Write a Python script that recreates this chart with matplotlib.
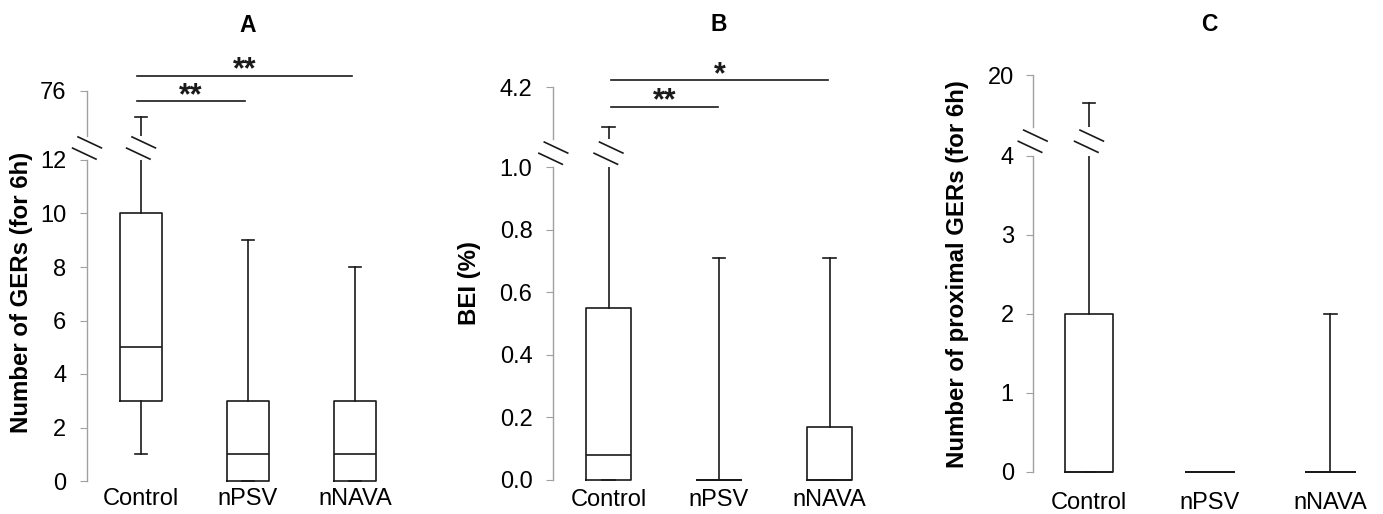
import matplotlib
matplotlib.use("Agg")
import matplotlib.pyplot as plt
from matplotlib.lines import Line2D
from matplotlib.transforms import blended_transform_factory

plt.rcParams['font.family'] = ['Liberation Sans', 'DejaVu Sans']

# ---------------- data ----------------
categories = ['Control', 'nPSV', 'nNAVA']

# Panel A: Number of GERs (for 6h)
gers_min = [1, 0, 0]
gers_q1 = [3, 0, 0]
gers_med = [5, 1, 1]
gers_q3 = [10, 3, 3]
gers_max = [55, 9, 8]
gers_ticks_low = [0, 2, 4, 6, 8, 10, 12]
gers_ticks_high = [76]

# Panel B: BEI (%)
bei_min = [0.0, 0.0, 0.0]
bei_q1 = [0.0, 0.0, 0.0]
bei_med = [0.08, 0.0, 0.0]
bei_q3 = [0.55, 0.0, 0.17]
bei_max = [1.9, 0.71, 0.71]
bei_ticks_low = [0.0, 0.2, 0.4, 0.6, 0.8, 1.0]
bei_ticks_high = [4.2]

# Panel C: Number of proximal GERs (for 6h)
prox_min = [0, 0, 0]
prox_q1 = [0, 0, 0]
prox_med = [0, 0, 0]
prox_q3 = [2, 0, 0]
prox_max = [14.5, 0, 2]
prox_ticks_low = [0, 1, 2, 3, 4]
prox_ticks_high = [20]

# significance comparisons (index pairs, label)
gers_sig = [(0, 1, '**'), (0, 2, '**')]
bei_sig = [(0, 1, '**'), (0, 2, '*')]
prox_sig = []

# ---------------- layout (pixels in the 1383x514 image) ----------------
W, H = 1383, 514
fig = plt.figure(figsize=(W / 100, H / 100), dpi=100)

AXIS_GRAY = '#a0a0a0'
INK = '#1a1a1a'

panels = [
    dict(title='A', ylabel='Number of GERs (for 6h)',
         mins=gers_min, q1=gers_q1, med=gers_med, q3=gers_q3, maxs=gers_max,
         tlow=gers_ticks_low, thigh=gers_ticks_high, fmt='{:g}', sig=gers_sig,
         spine_x=87, y0_px=481, ytop_px=160, up_top_px=91, up_bot_px=136,
         up_lo=40, pos1_px=141, spacing=107, xright=3.5,
         ylabel_xy=(22, 292), title_y=25, xpad=3.2, ypad=10,
         sig_lines_px=[101.3, 75.7], sig_x_off=(-0.04, -0.03)),
    dict(title='B', ylabel='BEI (%)',
         mins=bei_min, q1=bei_q1, med=bei_med, q3=bei_q3, maxs=bei_max,
         tlow=bei_ticks_low, thigh=bei_ticks_high, fmt='{:.1f}', sig=bei_sig,
         spine_x=553.3, y0_px=480, ytop_px=167.3, up_top_px=87.3, up_bot_px=139,
         up_lo=1.2, pos1_px=608.5, spacing=110.5, xright=3.5,
         ylabel_xy=(470, 283), title_y=24, xpad=4.2, ypad=10,
         sig_lines_px=[107, 80.3], sig_x_off=(0.02, -0.01)),
    dict(title='C', ylabel='Number of proximal GERs (for 6h)',
         mins=prox_min, q1=prox_q1, med=prox_med, q3=prox_q3, maxs=prox_max,
         tlow=prox_ticks_low, thigh=prox_ticks_high, fmt='{:g}', sig=prox_sig,
         spine_x=1032.7, y0_px=471.7, ytop_px=155.7, up_top_px=75, up_bot_px=126.7,
         up_lo=10, pos1_px=1089, spacing=120.7, xright=3.44,
         ylabel_xy=(958, 274), title_y=24, xpad=12.5, ypad=8.6,
         sig_lines_px=[], sig_x_off=(0, 0)),
]

TICK_FS = 17
LABEL_FS = 17.3
BOX_LW = 1.2
CAP_PX = 12.5
MARGIN_PX = 3


def style_axis(ax, lo, hi, ticks, fmt, pad):
    for s in ['top', 'right', 'bottom']:
        ax.spines[s].set_visible(False)
    ax.spines['left'].set_color(AXIS_GRAY)
    ax.spines['left'].set_linewidth(1.0)
    ax.spines['left'].set_bounds(lo, hi)
    ax.set_yticks(ticks)
    ax.set_yticklabels([fmt.format(t) for t in ticks])
    ax.tick_params(axis='y', length=5, width=0.8, color=AXIS_GRAY,
                   labelsize=TICK_FS, pad=pad)
    ax.patch.set_alpha(0)


for p in panels:
    n = len(categories)
    positions = list(range(1, n + 1))
    xleft = 1 - (p['pos1_px'] - p['spine_x']) / p['spacing']
    width_px = (p['xright'] - xleft) * p['spacing']
    scale = (p['y0_px'] - p['ytop_px']) / p['tlow'][-1]

    # lower axes
    low_bottom_px = p['y0_px'] + MARGIN_PX
    ax_lo = fig.add_axes([p['spine_x'] / W, 1 - low_bottom_px / H,
                          width_px / W, (low_bottom_px - p['ytop_px']) / H])
    ax_lo.set_xlim(xleft, p['xright'])
    ax_lo.set_ylim(-MARGIN_PX / scale, p['tlow'][-1])

    # upper axes
    ax_hi = fig.add_axes([p['spine_x'] / W, 1 - p['up_bot_px'] / H,
                          width_px / W, (p['up_bot_px'] - p['up_top_px']) / H])
    ax_hi.set_xlim(xleft, p['xright'])
    ax_hi.set_ylim(p['up_lo'], p['thigh'][-1])

    stats = []
    for i in range(n):
        stats.append(dict(label=categories[i], whislo=p['mins'][i], q1=p['q1'][i],
                          med=p['med'][i], q3=p['q3'][i], whishi=p['maxs'][i],
                          fliers=[]))
    cap_w = CAP_PX / p['spacing']
    for ax in (ax_lo, ax_hi):
        ax.bxp(stats, positions=positions, widths=0.4, capwidths=cap_w,
               showfliers=False, manage_ticks=False,
               boxprops=dict(color=INK, linewidth=BOX_LW),
               whiskerprops=dict(color=INK, linewidth=BOX_LW),
               capprops=dict(color=INK, linewidth=BOX_LW),
               medianprops=dict(color=INK, linewidth=BOX_LW))

    style_axis(ax_lo, 0, p['tlow'][-1], p['tlow'], p['fmt'], p['ypad'])
    style_axis(ax_hi, p['up_lo'], p['thigh'][-1], p['thigh'], p['fmt'], p['ypad'])
    ax_lo.set_xticks(positions)
    ax_lo.set_xticklabels(categories)
    ax_lo.tick_params(axis='x', length=0, labelsize=TICK_FS, pad=p['xpad'])
    ax_hi.set_xticks([])

    # break marks on axis and on Control whisker
    fig.canvas.draw()
    mid_px = (p['up_bot_px'] + p['ytop_px']) / 2
    ctrl_disp_x = ax_lo.transData.transform((positions[0], 0))[0]
    for cx in (p['spine_x'], ctrl_disp_x):
        for ox, oy in ((2.7, -5.6), (-2.7, 5.6)):
            x0, x1 = cx + ox - 11.7, cx + ox + 11.7
            y0, y1 = mid_px + oy - 5.5, mid_px + oy + 5.5
            fig.add_artist(Line2D([x0 / W, x1 / W], [1 - y0 / H, 1 - y1 / H],
                                  transform=fig.transFigure, color=INK, lw=1.2))

    # significance bars
    tr = blended_transform_factory(ax_lo.transData, fig.transFigure)
    for (i, j, lab), ly in zip(p['sig'], p['sig_lines_px']):
        xa = positions[i] + p['sig_x_off'][0]
        xb = positions[j] + p['sig_x_off'][1]
        fig.add_artist(Line2D([xa, xb], [1 - ly / H, 1 - ly / H], transform=tr,
                              color=INK, lw=1.2))
        fig.text((xa + xb) / 2, 1 - (ly + 2.5) / H, lab, transform=tr,
                 ha='center', va='baseline', fontsize=22, fontweight='bold',
                 color=INK)

    # title and y label
    fig.text(positions[1], 1 - p['title_y'] / H, p['title'], transform=tr,
             ha='center', va='center', fontsize=16.5, fontweight='bold')
    lx, ly = p['ylabel_xy']
    fig.text(lx / W, 1 - ly / H, p['ylabel'], rotation=90, ha='center',
             va='center', fontsize=LABEL_FS, fontweight='bold')

fig.savefig('out.png', dpi=100)
